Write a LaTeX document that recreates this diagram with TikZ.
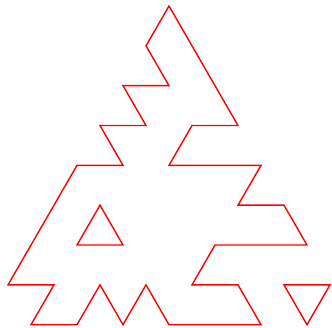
\documentclass[tikz,border=0pt]{standalone}
\begin{document}
\begin{tikzpicture}[x=1pt,y=-1pt]
\useasboundingbox (0,0) rectangle (332,328);
\tikzset{outline/.style={draw=red,line width=1.4pt,line join=miter}}
\begin{scope}[shift={(8,6)},x=23pt,y=-39.84pt]
\draw[outline] (7,0) -- (6,1) -- (7,2) -- (5,2) -- (6,3) -- (4,3) -- (5,4) -- (3,4)
  -- (0,7) -- (2,7) -- (1,8) -- (3,8) -- (4,7) -- (5,8) -- (6,7) -- (7,8) -- (11,8)
  -- (10,7) -- (8,7) -- (9,6) -- (13,6) -- (12,5) -- (10,5) -- (11,4) -- (7,4)
  -- (8,3) -- (10,3) -- cycle;
\draw[outline] (4,5) -- (3,6) -- (5,6) -- cycle;
\draw[outline] (12,7) -- (14,7) -- (13,8) -- cycle;
\end{scope}
\end{tikzpicture}
\end{document}
